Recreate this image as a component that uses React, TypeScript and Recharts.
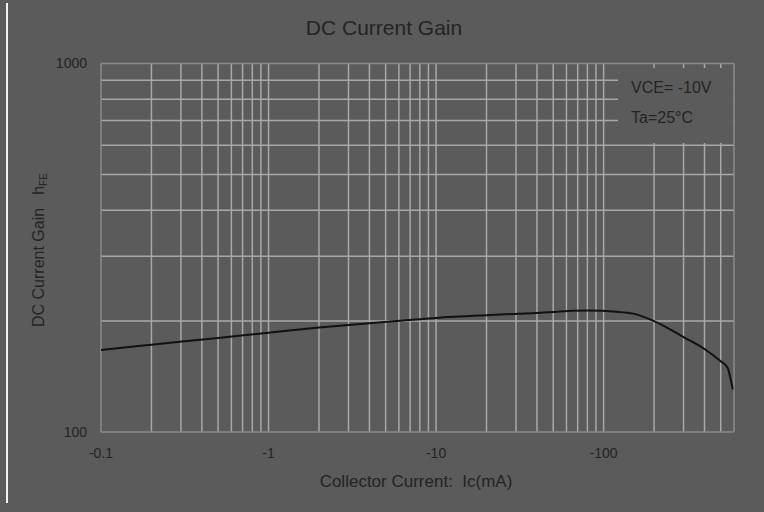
import { LineChart, Line, XAxis, YAxis, ReferenceLine } from "recharts";

// collector current Ic (mA, magnitude) vs DC current gain hFE
const current = [0.1, 0.2, 0.5, 1, 2, 5, 10, 20, 40, 80, 120, 150, 200, 300, 400, 500, 550, 570, 590];
const gain = [167, 172.5, 180, 186, 192, 199, 204, 207.5, 210.5, 213.5, 212, 209.5, 200, 181, 168, 155.5, 149.5, 140.5, 130.5];

const xTicks = [0.1, 1, 10, 100];
const xTickLabels = ["-0.1", "-1", "-10", "-100"];
const yTicks = [100, 1000];

const xGrid = [
  0.2, 0.3, 0.4, 0.5, 0.6, 0.7, 0.8, 0.9,
  1, 2, 3, 4, 5, 6, 7, 8, 9,
  10, 20, 30, 40, 50, 60, 70, 80, 90,
  100, 200, 300, 400, 500,
];
const yGrid = [200, 300, 400, 500, 600, 700, 800, 900];

const title = "DC Current Gain";
const yLabel = "DC Current Gain";
const xLabel = "Collector Current:\u00a0\u00a0Ic(mA)";
const notes = ["VCE= -10V", "Ta=25°C"];

const data = current.map((ic, i) => ({ ic, hfe: gain[i] }));

const BG = "#5b5b5b";
const GRID = "#a8a8a8";
const EDGE = "#8a8a8a";
const INK = "#242424";
const FONT = "'Liberation Sans', Arial, sans-serif";

export default function App() {
  const tick = { fill: INK, fontSize: 14, fontFamily: FONT };
  return (
    <div style={{ position: "absolute", left: 0, top: 0, width: 764, height: 512, background: BG }}>
      <LineChart
        width={764}
        height={512}
        data={data}
        margin={{ top: 63.5, right: 30, bottom: 50, left: 61 }}
      >
        <XAxis
          dataKey="ic"
          type="number"
          scale="log"
          domain={[0.1, 600]}
          allowDataOverflow
          ticks={xTicks}
          tickFormatter={(v) => xTickLabels[xTicks.indexOf(v)] ?? ""}
          axisLine={false}
          tickLine={false}
          tickSize={0}
          tickMargin={16}
          height={30}
          tick={tick}
          interval={0}
        />
        <YAxis
          type="number"
          scale="log"
          domain={[100, 1000]}
          allowDataOverflow
          ticks={yTicks}
          axisLine={false}
          tickLine={false}
          tickSize={0}
          tickMargin={14}
          width={40}
          tick={tick}
          interval={0}
        />
        {xGrid.map((v) => (
          <ReferenceLine key={"x" + v} x={v} stroke={GRID} strokeWidth={1.5} />
        ))}
        {yGrid.map((v) => (
          <ReferenceLine key={"y" + v} y={v} stroke={GRID} strokeWidth={1.5} />
        ))}
        <ReferenceLine x={0.1} stroke={EDGE} strokeWidth={1.5} />
        <ReferenceLine x={600} stroke={EDGE} strokeWidth={1.5} />
        <ReferenceLine y={100} stroke={EDGE} strokeWidth={1.5} />
        <ReferenceLine y={1000} stroke={EDGE} strokeWidth={1.5} />
        <Line
          dataKey="hfe"
          type="monotone"
          stroke="#111"
          strokeWidth={2}
          dot={false}
          isAnimationActive={false}
        />
      </LineChart>
      <svg
        width={764}
        height={512}
        style={{ position: "absolute", left: 0, top: 0, pointerEvents: "none" }}
        fontFamily={FONT}
        fill={INK}
      >
        <rect x={6} y={3} width={2} height={500} fill="#f2f2f2" />
        <rect x={618} y={68} width={115} height={75} fill={BG} />
        <text x={631} y={93} fontSize={16}>{notes[0]}</text>
        <text x={631} y={123} fontSize={16}>{notes[1]}</text>
        <text x={384} y={35} fontSize={21} textAnchor="middle">{title}</text>
        <text x={416} y={487} fontSize={17} textAnchor="middle">{xLabel}</text>
        <text transform="translate(44 327) rotate(-90)" fontSize={16}>
          {yLabel}
          <tspan dx={13}>h</tspan>
          <tspan fontSize={10} dy={3}>FE</tspan>
        </text>
      </svg>
    </div>
  );
}
